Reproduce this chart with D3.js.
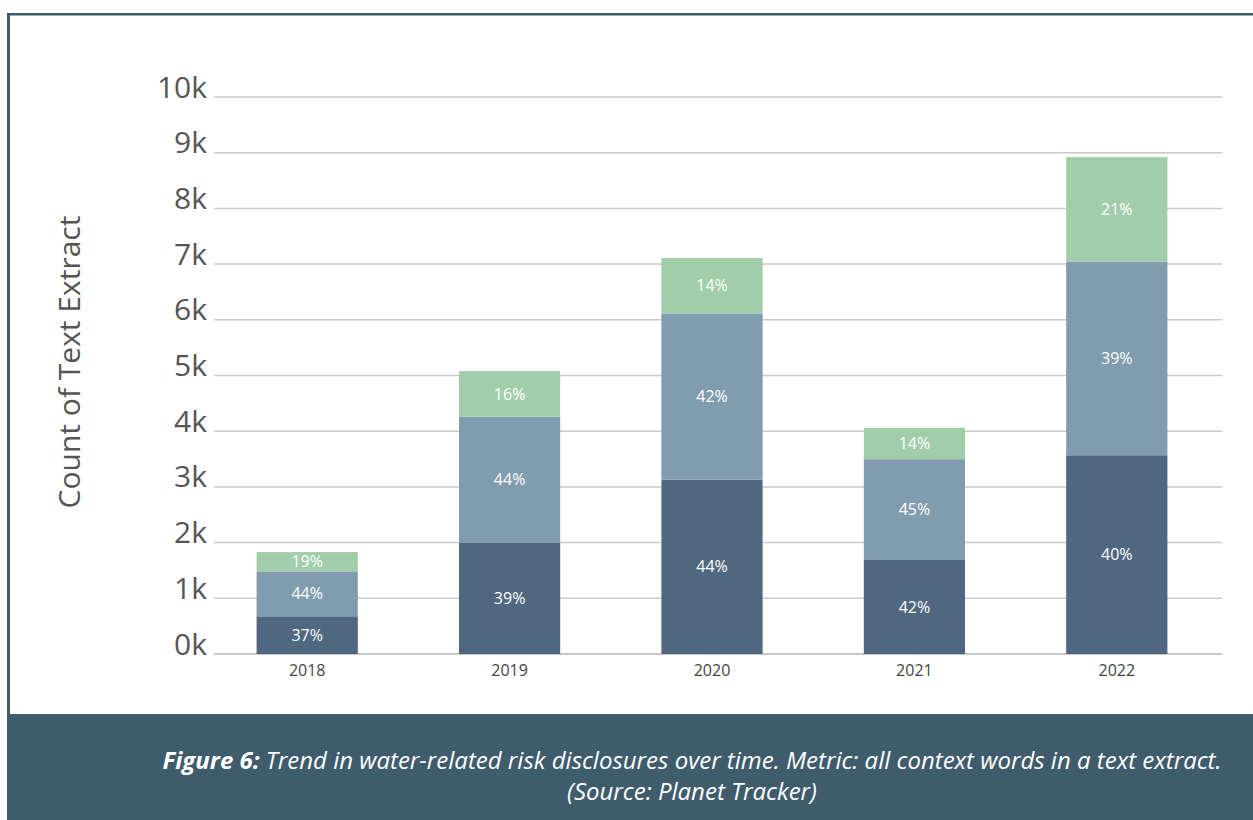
<!DOCTYPE html>
<html>
<head>
<meta charset="utf-8">
<script src="https://cdn.jsdelivr.net/npm/d3@7"></script>
<style>
  html, body { margin: 0; padding: 0; background: #fff; }
  svg { display: block; font-family: "Open Sans", "Noto Sans", sans-serif; }
</style>
</head>
<body>
<svg id="chart" width="1253" height="820"></svg>
<script>
// Yearly counts of text extracts and the share of each context band
const years = ["2018", "2019", "2020", "2021", "2022"];
const totals = [1830, 5130, 7110, 4020, 8920];
const shareLow = [37, 39, 44, 42, 40];   // bottom segment (%)
const shareMid = [44, 44, 42, 45, 39];   // middle segment (%)
const shareTop = [19, 16, 14, 14, 21];   // top segment (%)
const yTicks = [0, 1000, 2000, 3000, 4000, 5000, 6000, 7000, 8000, 9000, 10000];
const seriesKeys = ["low", "mid", "top"];
const seriesColors = ["#4f6880", "#819caf", "#a1cea9"];

const svg = d3.select("#chart");
const W = 1253, H = 820;

// frame: top and left rule, caption band at the bottom
svg.append("rect").attr("x", 7).attr("y", 13).attr("width", W - 7).attr("height", 2.5).attr("fill", "#3f5c6c");
svg.append("rect").attr("x", 7).attr("y", 13).attr("width", 3).attr("height", 714 - 13).attr("fill", "#3f5c6c");
svg.append("rect").attr("x", 7).attr("y", 714).attr("width", W - 7).attr("height", H - 714).attr("fill", "#3f5c6c");

const plot = { left: 214, right: 1222, top: 97, bottom: 654 };

const x = d3.scaleBand().domain(years).range([plot.left - 8, plot.right - 4]).paddingInner(0.5).paddingOuter(0.25);
const y = d3.scaleLinear().domain([0, 10000]).range([plot.bottom, plot.top]);

// gridlines
svg.append("g")
  .selectAll("line")
  .data(yTicks)
  .join("line")
  .attr("x1", plot.left).attr("x2", plot.right)
  .attr("y1", d => y(d)).attr("y2", d => y(d))
  .attr("stroke", d => d === 0 ? "#b4b4b4" : "#c9c9c9")
  .attr("stroke-width", 1.5);

// y axis labels
const yAxis = d3.axisLeft(y).tickValues(yTicks).tickFormat(d => (d / 1000) + "k").tickSize(0).tickPadding(7);
const gy = svg.append("g").attr("transform", `translate(${plot.left},0)`).call(yAxis);
gy.select(".domain").remove();
gy.selectAll("text")
  .attr("font-size", 30)
  .attr("fill", "#555")
  .attr("dy", "0")
  .attr("font-family", "'Open Sans', sans-serif");

// x axis labels
const xAxis = d3.axisBottom(x).tickSize(0).tickPadding(11);
const gx = svg.append("g").attr("transform", `translate(0,${plot.bottom})`).call(xAxis);
gx.select(".domain").remove();
gx.selectAll("text")
  .attr("font-size", 16)
  .attr("fill", "#444")
  .attr("font-family", "'Open Sans', sans-serif");

// y axis title
svg.append("text")
  .attr("transform", "translate(80,362) rotate(-90)")
  .attr("text-anchor", "middle")
  .attr("font-size", 30)
  .attr("fill", "#555")
  .text("Count of Text Extract");

// stacked segment values from totals and shares
const rows = years.map((yr, i) => ({
  year: yr,
  low: totals[i] * shareLow[i] / 100,
  mid: totals[i] * shareMid[i] / 100,
  top: totals[i] * shareTop[i] / 100,
  pct: { low: shareLow[i], mid: shareMid[i], top: shareTop[i] }
}));

const stack = d3.stack().keys(seriesKeys);
const layers = stack(rows);

const gBars = svg.append("g");
layers.forEach((layer, li) => {
  const g = gBars.append("g").attr("fill", seriesColors[li]);
  g.selectAll("rect")
    .data(layer)
    .join("rect")
    .attr("x", d => x(d.data.year))
    .attr("width", x.bandwidth())
    .attr("y", d => y(d[1]))
    .attr("height", d => y(d[0]) - y(d[1]));
  svg.append("g").selectAll("text")
    .data(layer)
    .join("text")
    .attr("x", d => x(d.data.year) + x.bandwidth() / 2)
    .attr("y", d => (y(d[0]) + y(d[1])) / 2)
    .attr("dy", "0.35em")
    .attr("text-anchor", "middle")
    .attr("font-size", 16)
    .attr("fill", "#ffffff")
    .text(d => d.data.pct[layer.key] + "%");
});

// caption
const cap = svg.append("text")
  .attr("x", 692).attr("y", 769)
  .attr("text-anchor", "middle")
  .attr("font-size", 24)
  .attr("font-style", "italic")
  .attr("fill", "#ffffff");
cap.append("tspan").attr("font-weight", 700).text("Figure 6:");
cap.append("tspan").text(" Trend in water-related risk disclosures over time. Metric: all context words in a text extract.");
svg.append("text")
  .attr("x", 692).attr("y", 800)
  .attr("text-anchor", "middle")
  .attr("font-size", 24)
  .attr("font-style", "italic")
  .attr("fill", "#ffffff")
  .text("(Source: Planet Tracker)");
</script>
</body>
</html>
